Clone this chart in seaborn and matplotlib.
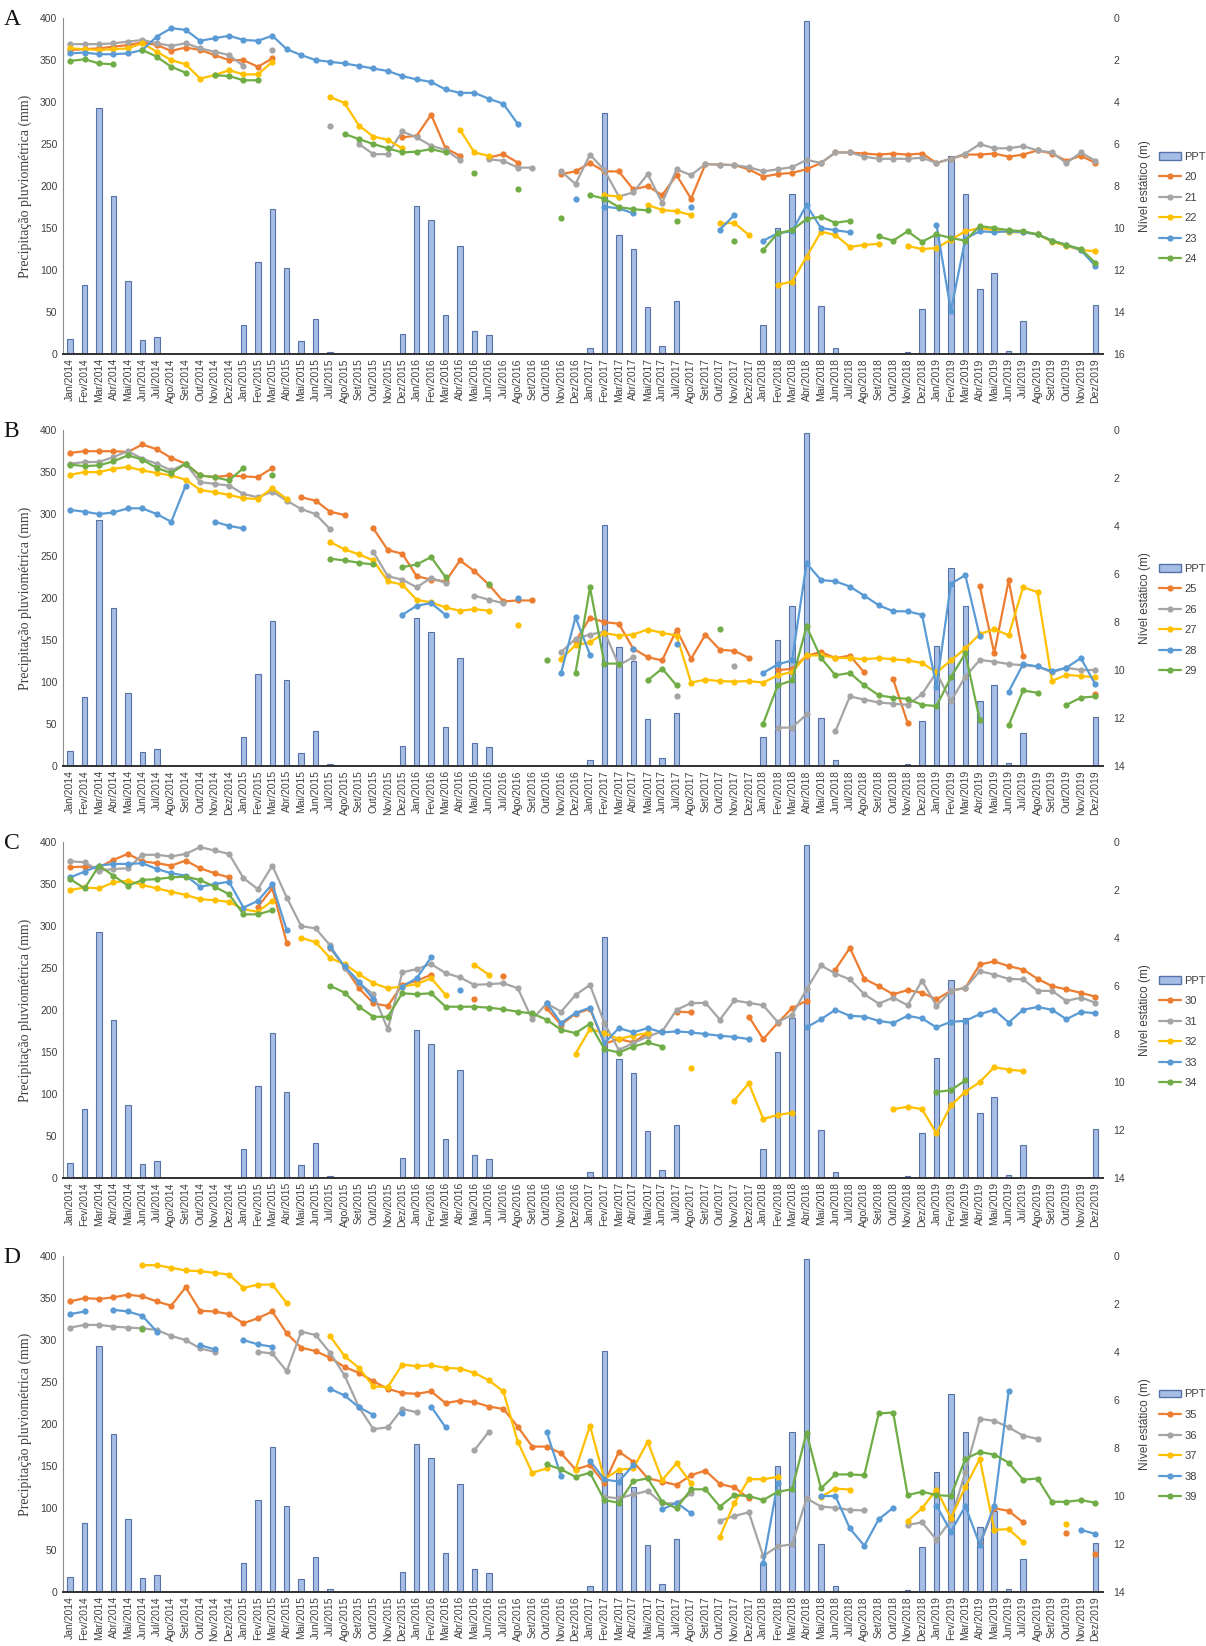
import numpy as np
import pandas as pd
import seaborn as sns
import matplotlib.pyplot as plt
from matplotlib.lines import Line2D
from matplotlib.patches import Patch

N = np.nan

# rótulos do eixo x (meses de 2014 a 2019)
meses = ['Jan', 'Fev', 'Mar', 'Abr', 'Mai', 'Jun', 'Jul', 'Ago', 'Set', 'Out', 'Nov', 'Dez']
rotulos = [f'{m}/{a}' for a in range(2014, 2020) for m in meses]

# precipitação mensal (mm)
ppt = [18, 82, 293, 188, 87, 17, 20, 0, 0, 0, 0, 0,
       34, 110, 173, 103, 16, 42, 3, 0, 0, 0, 0, 24,
       176, 160, 47, 129, 27, 23, 0, 0, 0, 0, 0, 0,
       7, 287, 142, 125, 56, 9, 63, 0, 0, 0, 0, 0,
       35, 150, 191, 397, 57, 7, 0, 0, 0, 0, 2, 54,
       143, 236, 191, 78, 96, 4, 39, 0, 0, 0, 0, 58]

# nível estático (m) - painel A
p20 = [1.52, 1.48, 1.44, 1.36, 1.28, 1.16, 1.28, 1.56, 1.40, 1.52, 1.76, 2.00,
       2.00, 2.32, 1.92, N, N, N, N, N, N, N, N, 5.68,
       5.60, 4.60, 6.20, 6.56, N, 6.64, 6.48, 6.88, N, N, 7.43, 7.30,
       6.90, 7.30, 7.30, 8.16, 8.00, 8.43, 7.48, 8.60, 6.95, 6.98, 7.00, 7.20,
       7.55, 7.43, 7.37, 7.20, 6.90, 6.40, 6.40, 6.45, 6.50, 6.45, 6.50, 6.45,
       6.90, 6.70, 6.50, 6.50, 6.45, 6.60, 6.50, 6.30, 6.45, 6.80, 6.55, 6.90]
p21 = [1.24, 1.24, 1.24, 1.20, 1.12, 1.04, 1.20, 1.32, 1.20, 1.44, 1.60, 1.76,
       2.28, N, 1.52, N, N, N, 5.12, N, 6.00, 6.48, 6.48, 5.40,
       5.68, 6.08, 6.28, 6.76, N, 6.72, 6.80, 7.12, 7.12, N, 7.30, 7.90,
       6.50, 7.24, 8.50, 8.30, 7.43, 8.80, 7.20, 7.48, 6.95, 6.98, 7.00, 7.10,
       7.30, 7.20, 7.10, 6.75, 6.90, 6.40, 6.40, 6.60, 6.70, 6.70, 6.70, 6.65,
       6.90, 6.70, 6.45, 6.00, 6.20, 6.20, 6.10, 6.30, 6.40, 6.90, 6.40, 6.80]
p22 = [1.44, 1.48, 1.52, 1.48, 1.44, 1.20, 1.60, 2.00, 2.20, 2.88, 2.72, 2.48,
       2.68, 2.68, 2.08, N, N, N, 3.76, 4.04, 5.12, 5.64, 5.80, 6.20,
       N, N, N, 5.32, 6.40, 6.56, N, N, N, N, N, N,
       N, 8.43, 8.50, N, 8.90, 9.14, 9.20, 9.38, N, 9.78, 9.75, 10.33,
       N, 12.70, 12.55, 11.37, 10.17, 10.33, 10.90, 10.80, 10.75, N, 10.85, 11.00,
       10.95, 10.55, 10.15, 10.00, 10.10, 10.20, 10.20, 10.30, 10.65, 10.85, 11.05, 11.10]
p23 = [1.68, 1.64, 1.72, 1.72, 1.68, 1.52, 0.88, 0.48, 0.56, 1.08, 0.96, 0.84,
       1.04, 1.08, 0.84, 1.48, 1.76, 2.00, 2.08, 2.16, 2.28, 2.40, 2.52, 2.76,
       2.92, 3.04, 3.40, 3.56, 3.56, 3.84, 4.08, 5.04, N, N, N, 8.63,
       N, 8.98, 9.06, 9.30, N, N, N, 9.00, N, 10.07, 9.38, N,
       10.60, 10.25, 10.15, 8.90, 10.00, 10.10, 10.20, N, N, N, N, N,
       9.84, 13.95, 10.50, 10.15, 10.20, 10.15, 10.20, 10.30, 10.60, 10.80, 11.05, 11.80]
p24 = [2.04, 1.96, 2.16, 2.20, N, 1.52, 1.84, 2.32, 2.60, N, 2.72, 2.76,
       2.96, 2.96, N, N, N, N, N, 5.52, 5.76, 6.00, 6.20, 6.40,
       6.36, 6.24, 6.40, N, 7.36, N, N, 8.16, N, N, 9.54, N,
       8.43, 8.60, 9.00, 9.10, 9.16, N, 9.67, N, N, N, 10.62, N,
       11.05, 10.25, 10.10, 9.57, 9.46, 9.75, 9.65, N, 10.40, 10.60, 10.15, 10.65,
       10.30, 10.47, 10.60, 9.90, 10.00, 10.10, 10.15, 10.30, 10.60, 10.80, 11.00, 11.65]

# painel B
p25 = [0.95, 0.88, 0.88, 0.88, 0.91, 0.60, 0.80, 1.16, 1.40, 1.89, 1.96, 1.89,
       1.93, 1.96, 1.58, N, 2.80, 2.94, 3.40, 3.54, N, 4.10, 5.00, 5.15,
       6.09, 6.23, 6.30, 5.43, 5.88, 6.44, 7.14, 7.10, 7.10, N, N, 8.80,
       7.82, 8.00, 8.07, 9.11, 9.46, 9.60, 8.31, 9.53, 8.52, 9.15, 9.20, 9.49,
       N, 10.00, 9.95, 9.40, 9.25, 9.50, 9.40, 10.10, N, 10.38, 12.20, N,
       N, N, N, 6.50, 9.30, 6.26, 9.40, N, N, N, N, 11.00]
p26 = [1.40, 1.33, 1.33, 1.12, 0.88, 1.19, 1.40, 1.68, 1.40, 2.17, 2.24, 2.31,
       2.66, 2.80, 2.56, 2.94, 3.29, 3.50, 4.13, N, N, 5.08, 6.09, 6.23,
       6.55, 6.16, 6.37, N, 6.90, 7.07, 7.21, N, N, N, 9.25, 8.70,
       8.52, 8.40, 9.80, 9.46, N, N, 11.08, N, N, N, 9.85, N,
       N, 12.40, 12.40, 11.85, N, 12.55, 11.10, 11.23, 11.35, 11.40, 11.45, 11.00,
       10.10, 11.30, 10.27, 9.58, 9.65, 9.75, 9.80, 9.85, 10.10, 9.90, 10.00, 10.00]
p27 = [1.86, 1.75, 1.75, 1.61, 1.54, 1.68, 1.79, 1.89, 2.07, 2.49, 2.59, 2.70,
       2.84, 2.87, 2.42, 2.87, N, N, 4.66, 4.97, 5.18, 5.43, 6.30, 6.44,
       7.07, 7.18, 7.39, 7.53, 7.46, 7.53, N, 8.12, N, N, 9.53, 8.97,
       8.84, 8.46, 8.56, 8.52, 8.31, 8.45, 8.56, 10.52, 10.40, 10.46, 10.48, 10.46,
       10.52, 10.22, 10.08, 9.39, 9.39, 9.49, 9.50, 9.55, 9.50, 9.55, 9.60, 9.70,
       10.10, 9.60, 9.10, 8.50, 8.30, 8.55, 6.55, 6.75, 10.45, 10.20, 10.25, 10.30]
p28 = [3.33, 3.40, 3.50, 3.43, 3.26, 3.26, 3.50, 3.82, 2.31, N, 3.82, 3.99,
       4.10, N, N, N, N, N, N, N, N, N, N, 7.70,
       7.32, 7.21, 7.70, N, N, N, N, 7.00, N, N, 10.12, 7.80,
       9.36, N, N, 9.11, N, N, 8.93, N, N, N, N, N,
       10.12, 9.76, 9.60, 5.55, 6.25, 6.30, 6.52, 6.90, 7.30, 7.55, 7.55, 7.70,
       10.70, 6.40, 6.05, 8.60, N, 10.90, 9.75, 9.85, 10.05, 9.90, 9.50, 10.60]
p29 = [1.44, 1.50, 1.47, 1.30, 1.05, 1.23, 1.58, 1.79, 1.40, 1.89, 1.96, 2.10,
       1.58, N, 1.86, N, N, N, 5.36, 5.43, 5.53, 5.60, N, 5.71,
       5.60, 5.29, 6.13, N, N, 6.41, N, N, N, 9.59, N, 10.12,
       6.55, 9.73, 9.73, N, 10.43, 9.94, 10.64, N, N, 8.28, N, N,
       12.23, 10.64, 10.43, 8.18, 9.49, 10.22, 10.12, 10.64, 11.05, 11.15, 11.20, 11.45,
       11.50, 10.30, 9.30, 12.10, N, 12.30, 10.85, 10.95, N, 11.45, 11.15, 11.10]

# painel C
p30 = [1.05, 1.02, 1.05, 0.74, 0.49, 0.80, 0.88, 0.98, 0.77, 1.09, 1.30, 1.47,
       N, 2.70, 1.93, 4.20, N, N, 4.40, 5.20, 6.09, 6.72, 6.83, 5.95,
       5.78, 5.53, N, N, 6.55, N, 5.60, N, N, 6.92, 7.61, 7.15,
       6.95, 8.40, 8.21, 8.35, 7.96, N, 7.06, 7.10, N, N, N, 7.27,
       8.21, 7.54, 6.92, 6.61, N, 5.31, 4.41, 5.70, 6.00, 6.34, 6.17, 6.28,
       6.55, 6.20, 6.07, 5.10, 4.97, 5.17, 5.31, 5.70, 6.00, 6.14, 6.28, 6.44]
p31 = [0.80, 0.84, 1.19, 1.12, 1.09, 0.53, 0.53, 0.60, 0.49, 0.21, 0.35, 0.49,
       1.50, 1.96, 0.98, 2.31, 3.50, 3.60, 4.30, 5.25, 5.88, 6.34, 7.80, 5.43,
       5.29, 5.08, 5.46, 5.64, 5.95, 5.92, 5.88, 6.09, 7.39, 6.72, 7.07, 6.37,
       5.95, 7.54, 8.66, 8.38, 8.10, 7.89, 6.99, 6.71, 6.70, 7.40, 6.60, 6.70,
       6.80, 7.50, 7.20, 6.14, 5.14, 5.48, 5.72, 6.34, 6.73, 6.48, 6.80, 5.77,
       6.83, 6.20, 6.07, 5.38, 5.52, 5.70, 5.72, 6.20, 6.20, 6.62, 6.48, 6.69]
p32 = [2.00, 1.89, 1.93, 1.68, 1.61, 1.79, 1.93, 2.07, 2.20, 2.38, 2.42, 2.49,
       2.80, 2.90, 2.45, N, 3.99, 4.17, 4.83, 5.08, 5.50, 5.88, 6.09, 6.02,
       5.92, 5.67, 6.37, N, 5.11, 5.53, N, N, N, N, N, 8.82,
       7.79, 7.96, 8.21, 8.06, 7.96, N, N, 9.42, N, N, 10.77, 10.05,
       11.54, 11.37, 11.28, N, N, N, N, N, N, 11.13, 11.03, 11.13,
       12.14, 10.97, 10.41, 10.00, 9.38, 9.48, 9.54, N, N, N, N, N]
p33 = [1.47, 1.23, 0.98, 0.91, 0.91, 0.88, 1.12, 1.30, 1.40, 1.86, 1.75, 1.65,
       2.73, 2.45, 1.75, 3.68, N, N, 4.38, 5.18, 5.81, 6.55, N, 6.02,
       5.67, 4.80, N, 6.16, N, N, N, N, N, 6.70, 7.54, 7.12,
       6.90, 8.38, 7.75, 7.93, 7.75, 7.93, 7.89, 7.93, 8.00, 8.07, 8.12, 8.21,
       N, N, N, 7.72, 7.38, 6.99, 7.24, 7.27, 7.45, 7.54, 7.24, 7.35,
       7.72, 7.49, 7.45, 7.17, 6.99, 7.52, 6.99, 6.87, 6.99, 7.38, 7.08, 7.13]
p34 = [1.54, 1.93, 0.98, 1.40, 1.82, 1.58, 1.54, 1.47, 1.44, 1.58, 1.86, 2.17,
       3.01, 3.01, 2.84, N, N, N, 5.99, 6.27, 6.86, 7.28, 7.28, 6.30,
       6.34, 6.30, 6.86, 6.86, 6.86, 6.90, 6.97, 7.07, 7.14, 7.40, 7.82, 7.96,
       7.57, 8.63, 8.77, 8.52, 8.35, 8.52, N, N, N, N, N, N,
       N, N, N, N, N, N, N, N, N, N, N, N,
       10.41, 10.34, 9.93, N, N, N, N, N, N, N, N, N]

# painel D
p35 = [1.89, 1.75, 1.79, 1.72, 1.61, 1.68, 1.89, 2.07, 1.30, 2.28, 2.31, 2.42,
       2.80, 2.59, 2.31, 3.22, 3.82, 3.96, 4.24, 4.62, 4.87, 5.22, 5.53, 5.71,
       5.74, 5.64, 6.13, 6.02, 6.09, 6.27, 6.37, 7.11, 7.94, 7.94, 8.22, 8.89,
       8.71, 9.47, 8.15, 8.57, 9.26, 9.40, 9.54, 9.13, 8.94, 9.50, 9.64, 10.10,
       N, N, N, N, N, N, N, N, N, N, N, N,
       N, N, N, 12.00, 10.51, 10.62, 11.10, N, N, 11.55, N, 12.40]
p36 = [2.98, 2.87, 2.87, 2.94, 2.98, 3.01, 3.08, 3.33, 3.50, 3.85, 3.99, N,
       N, 3.99, 4.06, 4.80, 3.15, 3.29, 4.03, 4.97, 6.30, 7.21, 7.14, 6.37,
       6.51, N, N, N, 8.09, 7.32, N, N, N, N, N, N,
       N, 10.03, 10.10, 9.93, 9.79, 10.31, 10.30, 9.89, N, 11.03, 10.83, 10.68,
       12.50, 12.10, 12.01, 10.10, 10.44, 10.49, 10.58, 10.60, N, N, 11.20, 11.10,
       11.82, 11.00, 9.00, 6.79, 6.86, 7.14, 7.48, 7.62, N, N, N, N]
p37 = [N, N, N, N, N, 0.38, 0.38, 0.49, 0.60, 0.63, 0.70, 0.77,
       1.33, 1.19, 1.19, 1.96, N, N, 3.33, 4.17, 4.66, 5.43, 5.46, 4.52,
       4.59, 4.55, 4.66, 4.69, 4.87, 5.18, 5.64, 7.74, 9.03, 8.85, N, 8.90,
       7.07, 9.30, 8.90, 8.85, 7.74, 9.33, 8.64, 9.47, N, 11.69, 10.30, 9.30,
       9.30, 9.20, N, N, 10.03, 9.69, 9.73, N, N, N, 11.04, 10.51,
       9.73, 10.93, 9.62, 8.45, 11.41, 11.38, 11.92, N, N, 11.18, N, N]
p38 = [2.42, 2.31, N, 2.24, 2.31, 2.49, 3.15, N, N, 3.71, 3.89, N,
       3.50, 3.68, 3.78, N, N, N, 5.53, 5.81, 6.30, 6.62, N, 6.55,
       N, 6.27, 7.14, N, N, N, N, N, N, 7.32, 9.17, N,
       8.53, 9.31, 9.40, 8.71, N, 10.56, 10.28, 10.72, N, N, N, N,
       12.80, 9.47, N, N, 10.00, 10.00, 11.35, 12.07, 10.97, 10.49, N, N,
       10.40, 11.48, 10.42, 12.03, 10.40, 5.62, N, N, N, N, 11.41, 11.58]
p39 = [N, N, N, N, N, 3.05, N, N, N, N, N, N,
       N, N, N, N, N, N, N, N, N, N, N, N,
       N, N, N, N, N, N, N, N, N, 8.68, 8.89, 9.20,
       9.03, 10.17, 10.28, 9.38, 9.26, 10.24, 10.51, 9.72, 9.72, 10.44, 9.96, 10.00,
       10.17, 9.82, 9.72, 7.36, 9.68, 9.10, 9.10, 9.13, 6.56, 6.52, 9.96, 9.82,
       9.96, 10.00, 8.45, 8.17, 8.27, 8.61, 9.32, 9.27, 10.24, 10.24, 10.17, 10.28]

paineis = [
    ('A', ['20', '21', '22', '23', '24'], [p20, p21, p22, p23, p24], 16),
    ('B', ['25', '26', '27', '28', '29'], [p25, p26, p27, p28, p29], 14),
    ('C', ['30', '31', '32', '33', '34'], [p30, p31, p32, p33, p34], 14),
    ('D', ['35', '36', '37', '38', '39'], [p35, p36, p37, p38, p39], 14),
]

cores = ['#ED7D31', '#A5A5A5', '#FFC000', '#5B9BD5', '#70AD47']
cor_barra = '#A6BDE5'
borda_barra = '#5673A8'
cinza = '#404040'


def tabela(nomes, series):
    # quebra cada série em trechos contínuos (os NaN interrompem a linha)
    linhas = []
    for nome, s in zip(nomes, series):
        trecho = 0
        for i, v in enumerate(s):
            if np.isnan(v):
                trecho += 1
                continue
            linhas.append((i, v, nome, f'{nome}-{trecho}'))
    return pd.DataFrame(linhas, columns=['mes', 'nivel', 'poco', 'trecho'])


sns.set_theme(style='white')
plt.rcParams['font.family'] = ['Liberation Sans', 'DejaVu Sans']

df_ppt = pd.DataFrame({'mes': range(len(ppt)), 'ppt': ppt})

fig = plt.figure(figsize=(12.06, 16.46), dpi=100)
bases = [0.7849, 0.5346, 0.2843, 0.0328]

for (letra, nomes, series, ymax), base in zip(paineis, bases):
    ax = fig.add_axes([0.0522, base, 0.862, 0.2041])
    sns.barplot(data=df_ppt, x='mes', y='ppt', native_scale=True, width=0.38,
                color=cor_barra, saturation=1, edgecolor=borda_barra,
                linewidth=0.8, errorbar=None, ax=ax)
    ax.set_ylim(0, 400)
    ax.set_yticks(range(0, 401, 50))
    ax.set_xticks(range(len(rotulos)))
    ax.set_xticklabels(rotulos, rotation=90, fontsize=7.5, color=cinza)
    ax.tick_params(axis='y', labelsize=7.5, labelcolor=cinza, length=0, pad=4)
    ax.tick_params(axis='x', length=0, pad=3)
    ax.set_xlabel('')
    ax.set_ylabel('Precipitação pluviométrica (mm)', family='Liberation Serif',
                  fontsize=10, color=cinza, labelpad=6)
    for lado in ['top', 'right']:
        ax.spines[lado].set_visible(False)
    ax.spines['left'].set_color('#8C8C8C')
    ax.spines['left'].set_linewidth(0.8)
    ax.spines['bottom'].set_color('#303030')
    ax.spines['bottom'].set_linewidth(1.4)

    ax2 = ax.twinx()
    tab = tabela(nomes, series)
    sns.lineplot(data=tab, x='mes', y='nivel', hue='poco', units='trecho',
                 estimator=None, palette=dict(zip(nomes, cores)),
                 hue_order=nomes, marker='o', markersize=4.5,
                 markeredgewidth=0, linewidth=1.6, legend=False, ax=ax2)
    ax2.set_ylim(ymax, 0)
    ax2.set_yticks(range(0, ymax + 1, 2))
    ax2.tick_params(axis='y', labelsize=7.5, labelcolor=cinza, length=0, pad=8)
    ax2.set_xlabel('')
    ax2.set_ylabel('Nível estático (m)', fontsize=8.5, color=cinza, labelpad=10)
    for lado in ax2.spines:
        ax2.spines[lado].set_visible(False)
    ax.set_xlim(-0.5, 71.5)

    handles = [Patch(facecolor=cor_barra, edgecolor=borda_barra, label='PPT')]
    for nome, c in zip(nomes, cores):
        handles.append(Line2D([0], [0], color=c, marker='o', markersize=4.5,
                              markeredgewidth=0, linewidth=1.6, label=nome))
    ax2.legend(handles=handles, loc='center left', bbox_to_anchor=(1.05, 0.435),
               frameon=False, fontsize=8, handlelength=2.0, handletextpad=0.3,
               labelspacing=0.95, borderaxespad=0, labelcolor=cinza)

    fig.text(0.003, base + 0.2041 - 0.001, letra, family='Liberation Serif',
             fontsize=17, va='center', ha='left', color='#111111')

fig.savefig('out.png', dpi=100)
plt.close()
